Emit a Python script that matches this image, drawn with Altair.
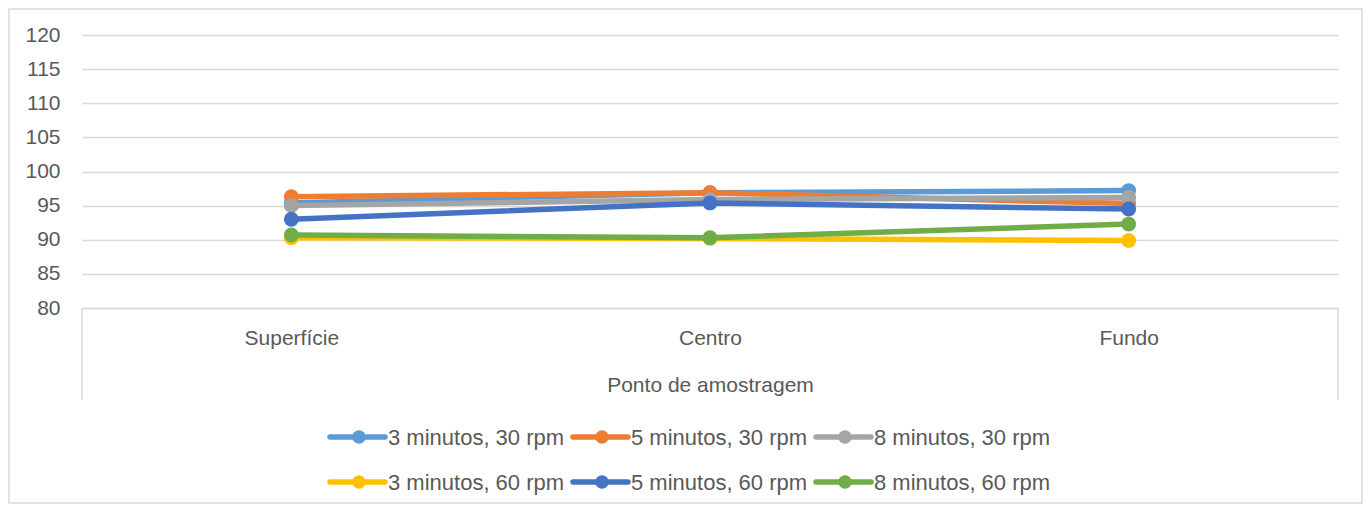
import altair as alt
import pandas as pd

categories = ["Superfície", "Centro", "Fundo"]
series_names = ["3 minutos, 30 rpm", "5 minutos, 30 rpm", "8 minutos, 30 rpm",
                "3 minutos, 60 rpm", "5 minutos, 60 rpm", "8 minutos, 60 rpm"]
s3_30 = [95.4, 96.9, 97.2]
s5_30 = [96.3, 96.9, 95.3]
s8_30 = [95.0, 95.9, 96.2]
s3_60 = [90.3, 90.2, 89.9]
s5_60 = [93.0, 95.4, 94.5]
s8_60 = [90.7, 90.3, 92.3]
series_values = [s3_30, s5_30, s8_30, s3_60, s5_60, s8_60]
colors = ["#5B9BD5", "#ED7D31", "#A5A5A5", "#FFC000", "#4472C4", "#70AD47"]
y_ticks = [80, 85, 90, 95, 100, 105, 110, 115, 120]
x_title = "Ponto de amostragem"

FONT = "Liberation Sans"
TXT = "#595959"
GRID = "#D9D9D9"
W, H = 1256, 273

x_enc = alt.X("cat:N", sort=categories, scale=alt.Scale(padding=0.5),
              axis=alt.Axis(title=x_title, labelAngle=0, ticks=False, tickSize=0,
                            labelPadding=30, labelBaseline="middle",
                            domainColor=GRID, domainWidth=1.5, grid=False,
                            titlePadding=26, titleFontWeight="normal"))
y_enc = alt.Y("val:Q", scale=alt.Scale(domain=[80, 120], nice=False),
              axis=alt.Axis(title=None, values=y_ticks, ticks=False, tickSize=0,
                            domain=False, labelPadding=22, grid=True,
                            gridColor=GRID, gridWidth=1.5))

layers = []
for name, vals, col in zip(series_names, series_values, colors):
    df = pd.DataFrame({"cat": categories, "val": vals, "s": name})
    base = alt.Chart(df)
    layers.append(base.mark_line(strokeWidth=5.5, color=col, strokeCap="round")
                  .encode(x=x_enc, y=y_enc))
    layers.append(base.mark_circle(size=220, opacity=1, color=col)
                  .encode(x=x_enc, y=y_enc))

# axis-frame verticals below the category axis
frame = alt.Data(values=[{"k": 0}])
for xv in (0, W):
    layers.append(alt.Chart(frame).mark_rule(color=GRID, strokeWidth=1.5)
                  .encode(x=alt.value(xv), y=alt.value(H), y2=alt.value(365)))

# outer chart border
layers.append(alt.Chart(frame).mark_rect(fill=None, stroke=GRID, strokeWidth=1.5)
              .encode(x=alt.value(-73), x2=alt.value(W + 24),
                      y=alt.value(-26), y2=alt.value(H + 195)))

# legend (2 rows x 3 columns)
leg_x0, leg_col_step = 248, 243
leg_y0, leg_row_step = 402, 45
for i, (name, col) in enumerate(zip(series_names, colors)):
    r, c = divmod(i, 3)
    x0 = leg_x0 + c * leg_col_step
    y0 = leg_y0 + r * leg_row_step
    d = alt.Data(values=[{"s": name}])
    layers.append(alt.Chart(d).mark_rule(color=col, strokeWidth=5.5, strokeCap="round")
                  .encode(x=alt.value(x0), x2=alt.value(x0 + 55), y=alt.value(y0)))
    layers.append(alt.Chart(d).mark_circle(size=180, opacity=1, color=col)
                  .encode(x=alt.value(x0 + 29), y=alt.value(y0)))
    layers.append(alt.Chart(d).mark_text(align="left", baseline="middle", font=FONT,
                                         fontSize=22, color=TXT)
                  .encode(x=alt.value(x0 + 58), y=alt.value(y0 + 1), text="s:N"))

chart = alt.layer(*layers).properties(
    width=W, height=H,
    autosize=alt.AutoSizeParams(type="none"),
    padding={"left": 74, "top": 27, "right": 26, "bottom": 196},
    background="white",
).configure_view(stroke=None).configure_axis(
    labelFont=FONT, labelFontSize=21, labelColor=TXT,
    titleFont=FONT, titleFontSize=21, titleColor=TXT,
)

chart.save("out.html", embed_options={"renderer": "svg", "actions": False})
